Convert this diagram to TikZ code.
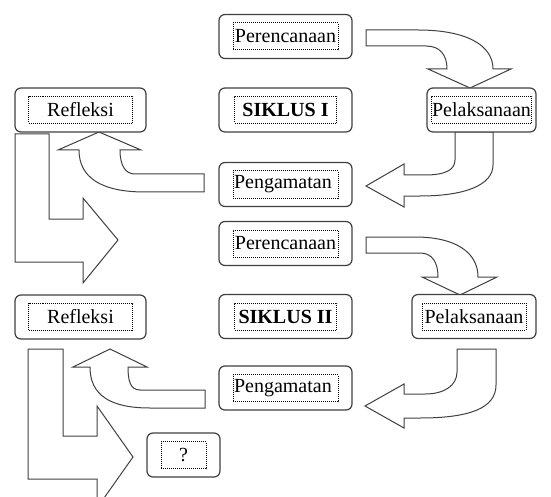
\documentclass[tikz,border=0pt]{standalone}
\usepackage{fontspec}
\setmainfont{Liberation Serif}
\usepackage{tikz}
\usetikzlibrary{shapes.geometric, arrows}

\begin{document}
\begin{tikzpicture}[x=1pt, y=-1pt]
      \tikzstyle{stagebox} = [rectangle, rounded corners=6pt, minimum height=44pt, draw=black!75, line width=1.2pt, fill=white, inner sep=0pt]
      \tikzstyle{labelbox} = [rectangle, minimum height=27pt, draw=black, densely dotted, line width=1pt, inner sep=0pt, font=\fontsize{20}{22}\selectfont, text centered]
      \tikzstyle{bigarrow} = [draw=black!75, line width=1pt, fill=white, line join=miter]

      \useasboundingbox (0,0) rectangle (551,497);
      \clip (0,0) rectangle (551,497);

      % siklus I arrows
      \draw [bigarrow] (366,30) -- (418,30) .. controls (466,30) and (493,45) .. (493,69) -- (511,69) -- (470,88) -- (428,69) -- (447,69) .. controls (447,55) and (440,46) .. (426,46) -- (366,46) -- cycle;
      \draw [bigarrow] (455,132) -- (455,160) .. controls (455,170) and (445,175) .. (425,175) -- (404,175) -- (404,164) -- (366,186) -- (404,207) -- (404,196) -- (420,196) .. controls (465,196) and (493,185) .. (493,165) -- (493,132) -- cycle;
      \draw [bigarrow] (204,174) -- (135,174) .. controls (125,174) and (120,165) .. (120,150) -- (141,150) -- (99,132) -- (58,150) -- (79,150) .. controls (79,178) and (102,192) .. (145,192) -- (204,192) -- cycle;
      \draw [bigarrow] (15,134) -- (49,134) -- (49,219) -- (83,219) -- (83,198) -- (118,240) -- (83,283) -- (83,262) -- (15,262) -- cycle;

      % siklus II arrows
      \draw [bigarrow] (366,237) -- (415,237) .. controls (455,237) and (478,252) .. (478,277) -- (497,277) -- (460,295) -- (422,277) -- (438,277) .. controls (438,262) and (432,253) .. (420,253) -- (366,253) -- cycle;
      \draw [bigarrow] (457,349) -- (457,372) .. controls (457,385) and (445,394) .. (425,394) -- (404,394) -- (404,384) -- (365,406) -- (404,428) -- (404,418) -- (420,418) .. controls (470,418) and (496,408) .. (496,385) -- (496,349) -- cycle;
      \draw [bigarrow] (205,390) -- (140,390) .. controls (130,390) and (128,380) .. (128,367) -- (147,367) -- (110,349) -- (73,367) -- (90,367) .. controls (90,395) and (110,408) .. (150,408) -- (205,408) -- cycle;
      \draw [bigarrow] (28,349) -- (63,349) -- (63,436) -- (97,436) -- (97,406) -- (133,457) -- (97,508) -- (97,479) -- (28,479) -- cycle;

      % siklus I boxes
      \node (per1) [stagebox, minimum width=133pt] at (285.5,36.5) {};
      \node (per1t) [labelbox, minimum width=105pt] at (per1) {Perencanaan};
      \node (ref1) [stagebox, minimum width=131pt] at (80.5,110) {};
      \node (ref1t) [labelbox, minimum width=104pt] at (ref1) {Refleksi};
      \node (sik1) [stagebox, minimum width=133pt] at (285.5,110) {};
      \node (sik1t) [labelbox, minimum width=102pt] at (sik1) {\textbf{SIKLUS I}};
      \node (pel1) [stagebox, minimum width=109pt] at (481.5,110) {};
      \node (pel1t) [labelbox, minimum width=100pt] at (pel1) {Pelaksanaan};
      \node (pen1) [stagebox, minimum width=133pt] at (285.5,184.5) {};
      \node (pen1t) [labelbox, text width=103pt, inner xsep=1pt, align=left] at (pen1) {Pengamatan};

      % siklus II boxes
      \node (per2) [stagebox, minimum width=133pt] at (285.5,243.5) {};
      \node (per2t) [labelbox, minimum width=105pt] at (per2) {Perencanaan};
      \node (ref2) [stagebox, minimum width=131pt] at (80.5,317) {};
      \node (ref2t) [labelbox, minimum width=104pt] at (ref2) {Refleksi};
      \node (sik2) [stagebox, minimum width=133pt] at (285.5,316.5) {};
      \node (sik2t) [labelbox, minimum width=102pt] at (sik2) {\textbf{SIKLUS II}};
      \node (pel2) [stagebox, minimum width=124pt] at (474,316.5) {};
      \node (pel2t) [labelbox, minimum width=104pt] at (pel2) {Pelaksanaan};
      \node (pen2) [stagebox, minimum width=133pt] at (285.5,388) {};
      \node (pen2t) [labelbox, text width=103pt, inner xsep=1pt, align=left] at (pen2) {Pengamatan};
      \node (tanya) [stagebox, minimum width=73pt] at (183.5,455) {};
      \node (tanyat) [labelbox, minimum width=45pt] at (tanya) {?};

\end{tikzpicture}
\end{document}
